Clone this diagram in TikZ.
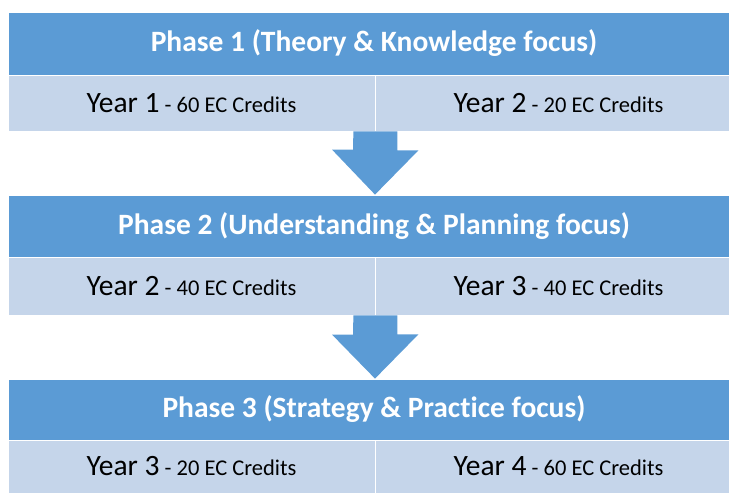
\documentclass[tikz,border=0pt]{standalone}
\usepackage{fontspec}
\setmainfont{Carlito}[Ligatures=NoCommon]
\usepackage{tikz}
\usetikzlibrary{calc,positioning}
\definecolor{phaseblue}{HTML}{5B9BD5}
\definecolor{yearblue}{HTML}{C5D5EA}
\tikzset{phase style/.style={draw=white,line width=0.8pt,fill=phaseblue,text=white,font=\fontsize{29.5}{34}\selectfont\bfseries,minimum width=732pt,inner sep=0pt},
	year style/.style={draw=white,line width=0.8pt,fill=yearblue,text=black,font=\fontsize{22.5}{26}\selectfont,minimum width=367pt,inner sep=0pt}}
\newcommand{\yr}[2]{{\fontsize{29.5}{34}\selectfont Year #1} - #2 EC Credits}

\begin{document}
\begin{tikzpicture}[x=1pt,y=-1pt]
	\useasboundingbox (0,0) rectangle (729,493);
	
	\node[phase style, minimum height=63pt] (h1) at (374,43.5) {Phase 1 (Theory \& Knowledge focus)};
	\node[year style, minimum height=56pt] (y11) at (191.5,103) {\yr{1}{60}};
	\node[year style, minimum height=56pt] (y12) at (558.5,103) {\yr{2}{20}};
	
	\node[phase style, minimum height=62pt] (h2) at (374,226) {Phase 2 (Understanding \& Planning focus)};
	\node[year style, minimum height=58pt] (y21) at (191.5,286) {\yr{2}{40}};
	\node[year style, minimum height=58pt] (y22) at (558.5,286) {\yr{3}{40}};
	
	\node[phase style, minimum height=61pt] (h3) at (374,409.5) {Phase 3 (Strategy \& Practice focus)};
	\node[year style, minimum height=53pt] (y31) at (191.5,466.5) {\yr{3}{20}};
	\node[year style, minimum height=53pt] (y32) at (558.5,466.5) {\yr{4}{60}};
	
	% block arrows between the phases
	\fill[phaseblue] ($(y11.south east)+(-22,0)$) -- ++(44,0) -- ++(0,19) -- ++(21,0)
		-- ($(h2.north)+(1,0)$) -- ++(-43,-45) -- ++(21,0) -- cycle;
	\fill[phaseblue] ($(y21.south east)+(-22,0)$) -- ++(44,0) -- ++(0,19) -- ++(21,0)
		-- ($(h3.north)+(1,0)$) -- ++(-43,-44) -- ++(21,0) -- cycle;
\end{tikzpicture}
\end{document}
